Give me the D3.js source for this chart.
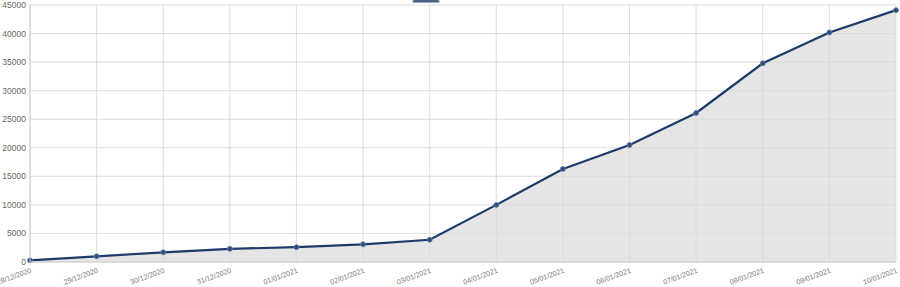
<!DOCTYPE html>
<html>
<head>
<meta charset="utf-8">
<script src="https://cdn.jsdelivr.net/npm/d3@7"></script>
<style>
  body { margin: 0; background: #fff; }
  svg { display: block; font-family: "Liberation Sans", Arial, sans-serif; }
</style>
</head>
<body>
<script>
const dates = ["28/12/2020", "29/12/2020", "30/12/2020", "31/12/2020", "01/01/2021",
               "02/01/2021", "03/01/2021", "04/01/2021", "05/01/2021", "06/01/2021",
               "07/01/2021", "08/01/2021", "09/01/2021", "10/01/2021"];
const values = [300, 1000, 1700, 2300, 2600, 3100, 3900, 10000, 16300, 20500,
                26100, 34800, 40200, 44100];
const yTicks = [0, 5000, 10000, 15000, 20000, 25000, 30000, 35000, 40000, 45000];

const width = 900, height = 287;
const mLeft = 30, mRight = 896, mTop = 5, mBottom = 262;

const svg = d3.select("body").append("svg")
    .attr("width", width)
    .attr("height", height);

const x = d3.scalePoint().domain(dates).range([mLeft, mRight]);
const y = d3.scaleLinear().domain([0, 45000]).range([mBottom, mTop]);

// grid
svg.append("g")
    .selectAll("line")
    .data(yTicks)
    .join("line")
    .attr("x1", mLeft).attr("x2", mRight)
    .attr("y1", d => y(d)).attr("y2", d => y(d))
    .attr("stroke", "#ececec").attr("stroke-width", 1);

svg.append("g")
    .selectAll("line")
    .data(dates)
    .join("line")
    .attr("x1", d => x(d)).attr("x2", d => x(d))
    .attr("y1", mTop).attr("y2", mBottom)
    .attr("stroke", "#ececec").attr("stroke-width", 1);

// area + line
const data = dates.map((d, i) => ({date: d, value: values[i]}));

const area = d3.area()
    .x(d => x(d.date))
    .y0(y(0))
    .y1(d => y(d.value));

const line = d3.line()
    .x(d => x(d.date))
    .y(d => y(d.value));

svg.append("path")
    .attr("d", area(data))
    .attr("fill", "#e5e5e5");

// grid lines show through the fill
svg.append("g")
    .selectAll("line")
    .data(dates)
    .join("line")
    .attr("x1", d => x(d)).attr("x2", d => x(d))
    .attr("y1", mTop).attr("y2", mBottom)
    .attr("stroke", "#d0d0d0").attr("stroke-width", 1)
    .attr("opacity", 0.4);

svg.append("g")
    .selectAll("line")
    .data(yTicks)
    .join("line")
    .attr("x1", mLeft).attr("x2", mRight)
    .attr("y1", d => y(d)).attr("y2", d => y(d))
    .attr("stroke", "#d0d0d0").attr("stroke-width", 1)
    .attr("opacity", 0.4);

svg.append("path")
    .attr("d", line(data))
    .attr("fill", "none")
    .attr("stroke", "#1d3a6b")
    .attr("stroke-width", 2.2);

svg.append("g")
    .selectAll("circle")
    .data(data)
    .join("circle")
    .attr("cx", d => x(d.date))
    .attr("cy", d => y(d.value))
    .attr("r", 2.5)
    .attr("fill", "#2b4a80")
    .attr("stroke", "#6f86aa")
    .attr("stroke-width", 0.8);

// axes lines
svg.append("line")
    .attr("x1", mLeft).attr("x2", mLeft).attr("y1", mTop).attr("y2", mBottom)
    .attr("stroke", "#d0d0d0");
svg.append("line")
    .attr("x1", mLeft).attr("x2", mRight).attr("y1", mBottom).attr("y2", mBottom)
    .attr("stroke", "#d0d0d0");

// y labels
svg.append("g")
    .selectAll("text")
    .data(yTicks)
    .join("text")
    .attr("x", mLeft - 4)
    .attr("y", d => y(d))
    .attr("dy", "0.35em")
    .attr("text-anchor", "end")
    .attr("font-size", 8.5)
    .attr("fill", "#666")
    .text(d => d);

// x labels
svg.append("g")
    .selectAll("text")
    .data(dates)
    .join("text")
    .attr("transform", d => `translate(${x(d) + 1},${mBottom + 8}) rotate(-20)`)
    .attr("text-anchor", "end")
    .attr("dy", "0.35em")
    .attr("font-size", 7.2)
    .attr("fill", "#777")
    .text(d => d);

// legend swatch (cut at top)
svg.append("rect")
    .attr("x", 413).attr("y", -3)
    .attr("width", 26).attr("height", 5.5)
    .attr("fill", "#4a5f82")
    .attr("stroke", "#9aa8c0");
</script>
</body>
</html>
